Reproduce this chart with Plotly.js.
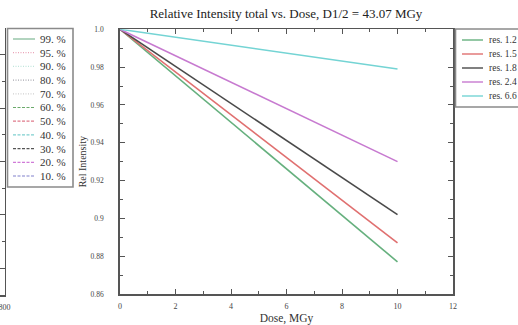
<!DOCTYPE html>
<html>
<head>
<meta charset="utf-8">
<script src="https://cdn.plot.ly/plotly-3.0.1.min.js"></script>
<style>html,body{margin:0;padding:0;background:#fff;}#chart{width:518px;height:325px;}</style>
</head>
<body>
<div id="chart"></div>
<script>
// ---- data ----
const doseEnd = 10;                 // Dose (MGy) at end of each series (all start at 0)
const resNames = ["res. 1.2", "res. 1.5", "res. 1.8", "res. 2.4", "res. 6.6"];
const resStart = [1.0, 1.0, 1.0, 1.0, 1.0];
const resEnd = [0.877, 0.887, 0.902, 0.930, 0.979];
const resColors = ["#66b07e", "#e07070", "#4a4a4a", "#c77ad0", "#74d4d4"];

const pctNames = ["99. %", "95. %", "90. %", "80. %", "70. %", "60. %", "50. %", "40. %", "30. %", "20. %", "10. %"];
const pctColors = ["#7fb894", "#eaa3b8", "#bfe6dc", "#a8a8b0", "#cfcfcf", "#6aaa6a", "#e07a8a", "#7fd0d0", "#555555", "#d07ad8", "#8080cc"];
const pctDash = ["solid", "1px,1.5px", "1px,1.5px", "1px,1.5px", "1px,1.5px", "3px,1.5px", "3px,1.5px", "3px,1.5px", "3px,1.5px", "3px,1.5px", "3px,1.5px"];

const yTickVals = [0.86, 0.88, 0.90, 0.92, 0.94, 0.96, 0.98, 1.0];
const yTickText = ["0.86", "0.88", "0.9", "0.92", "0.94", "0.96", "0.98", "1.0"];
const xTickVals = [0, 2, 4, 6, 8, 10, 12];

// ---- helpers (pixel -> paper) ----
const W = 518, H = 325;
const px = v => v / W;
const py = v => 1 - v / H;
const serif = "Liberation Serif, Times New Roman, serif";

// ---- traces ----
const traces = resNames.map((n, i) => ({
  type: "scatter", mode: "lines", name: n,
  x: [0, doseEnd], y: [resStart[i], resEnd[i]],
  line: {color: resColors[i], width: 1.6},
  xaxis: "x", yaxis: "y", showlegend: false
}));
// left (cropped) panel placeholder axes
traces.push({type: "scatter", mode: "lines", x: [], y: [], xaxis: "x2", yaxis: "y2", showlegend: false, hoverinfo: "skip"});

// ---- manual legends ----
const shapes = [];
const annotations = [];
shapes.push({type: "rect", xref: "paper", yref: "paper", x0: px(7.5), x1: px(73), y0: py(28.5), y1: py(187),
  line: {color: "#8a8a8a", width: 1.6}, fillcolor: "rgba(0,0,0,0)"});
pctNames.forEach((n, i) => {
  const yc = 39 + i * 13.7;
  shapes.push({type: "line", xref: "paper", yref: "paper", x0: px(13), x1: px(35), y0: py(yc), y1: py(yc),
    line: {color: pctColors[i], width: 1.2, dash: pctDash[i]}});
  annotations.push({xref: "paper", yref: "paper", x: px(38), y: py(yc), xanchor: "left", yanchor: "middle",
    text: n, showarrow: false, font: {family: serif, size: 11, color: "#333"}});
});
shapes.push({type: "rect", xref: "paper", yref: "paper", x0: px(455.5), x1: px(560), y0: py(29), y1: py(107),
  line: {color: "#8a8a8a", width: 1.6}, fillcolor: "rgba(0,0,0,0)"});
resNames.forEach((n, i) => {
  const yc = 40 + i * 14;
  shapes.push({type: "line", xref: "paper", yref: "paper", x0: px(462), x1: px(483), y0: py(yc), y1: py(yc),
    line: {color: resColors[i], width: 1.4}});
  annotations.push({xref: "paper", yref: "paper", x: px(487), y: py(yc), xanchor: "left", yanchor: "middle",
    text: n, showarrow: false, font: {family: serif, size: 9.5, color: "#333"}});
});

const axisCommon = {
  showline: true, linecolor: "#555", linewidth: 1.8, mirror: "ticks",
  ticks: "inside", ticklen: 5, tickwidth: 1, tickcolor: "#555",
  showgrid: false, zeroline: false
};

const layout = {
  width: W, height: H,
  margin: {l: 0, r: 0, t: 0, b: 0},
  paper_bgcolor: "#fff", plot_bgcolor: "#fff",
  showlegend: false,
  title: {text: "Relative Intensity total vs. Dose, D1/2 = 43.07 MGy",
    font: {family: serif, size: 13, color: "#222"},
    x: px(286), xanchor: "center", y: py(13), yanchor: "middle", xref: "paper", yref: "paper"},
  xaxis: Object.assign({}, axisCommon, {
    domain: [px(120), px(453)], range: [0, 12], anchor: "y",
    tickvals: xTickVals, ticktext: xTickVals.map(String),
    tickfont: {family: serif, size: 8, color: "#444"},
    minor: {dtick: 1, ticks: "inside", ticklen: 3, tickcolor: "#555"},
    ticklabelstandoff: 4,
    title: {text: "Dose, MGy", font: {family: serif, size: 11.5, color: "#333"}, standoff: 3}
  }),
  yaxis: Object.assign({}, axisCommon, {
    domain: [py(294), py(29.3)], range: [0.86, 1.0], anchor: "x",
    tickvals: yTickVals, ticktext: yTickText,
    tickfont: {family: serif, size: 7.5, color: "#444"},
    minor: {dtick: 0.01, ticks: "inside", ticklen: 3, tickcolor: "#555"},
    ticklabelstandoff: 13,
    title: {text: "Rel Intensity", font: {family: serif, size: 10, color: "#333"}, standoff: 2}
  }),
  xaxis2: {
    domain: [0, px(4.5)], range: [0, 800], anchor: "y2",
    showline: true, linecolor: "#555", linewidth: 1.6,
    ticks: "inside", ticklen: 5, tickcolor: "#555",
    tickvals: [800], ticktext: ["800"], showgrid: false, zeroline: false,
    ticklabeloverflow: "allow",
    tickfont: {family: serif, size: 8, color: "#444"}, ticklabelstandoff: 4
  },
  yaxis2: {
    domain: [py(295), py(28)], range: [0, 1], anchor: "x2", side: "right",
    showline: true, linecolor: "#555", linewidth: 1.6,
    ticks: "inside", ticklen: 5, tickcolor: "#555",
    tickvals: [0.1, 0.3, 0.5, 0.7, 0.9], showticklabels: false,
    minor: {dtick: 0.1, ticks: "inside", ticklen: 3},
    showgrid: false, zeroline: false
  },
  shapes: shapes,
  annotations: annotations
};

Plotly.newPlot("chart", traces, layout, {displayModeBar: false, staticPlot: true});
</script>
</body>
</html>
